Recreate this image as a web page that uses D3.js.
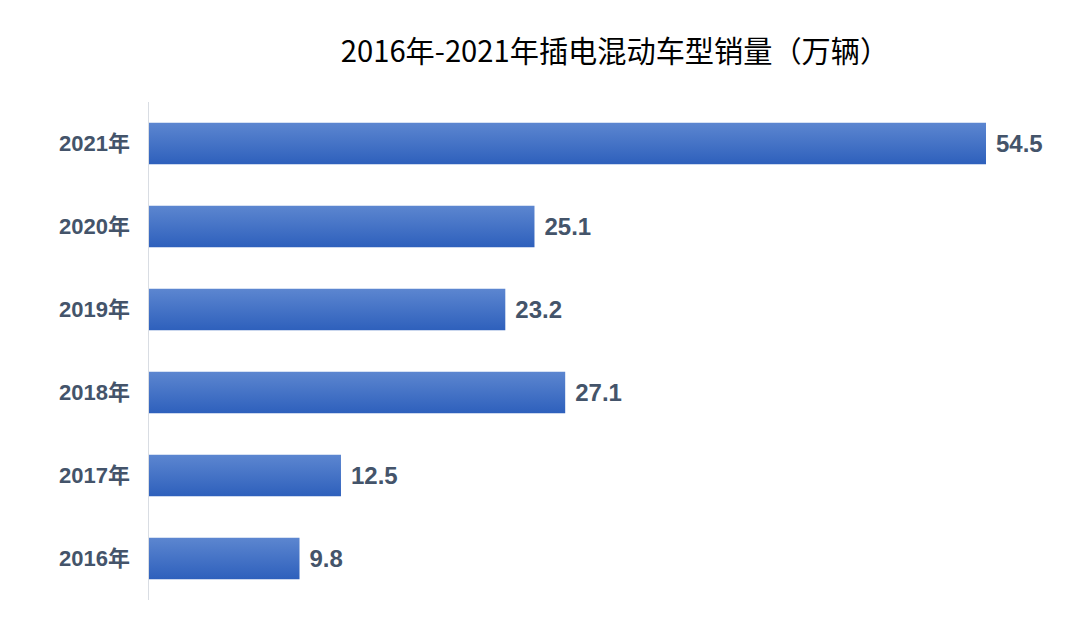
<!DOCTYPE html>
<html><head><meta charset="utf-8">
<script src="https://cdn.jsdelivr.net/npm/d3@7"></script>
<style>body{margin:0;background:#fff;}svg{display:block;}</style>
</head><body>
<svg id="c" width="1073" height="627"></svg>
<script>
const categories = ["2021年","2020年","2019年","2018年","2017年","2016年"];
const values = [54.5, 25.1, 23.2, 27.1, 12.5, 9.8];
const title = "2016年-2021年插电混动车型销量（万辆）";

const svg = d3.select("#c");
const x0 = 149, x1 = 986, yTop = 102, yBot = 600;
const x = d3.scaleLinear().domain([0, 54.5]).range([x0, x1]);
const y = d3.scaleBand().domain(categories).range([yTop, yBot]).paddingInner(0.5).paddingOuter(0.25);

const defs = svg.append("defs");
const g = defs.append("linearGradient").attr("id","bg").attr("x1",0).attr("y1",0).attr("x2",0).attr("y2",1);
g.append("stop").attr("offset","0%").attr("stop-color","#5c86d0");
g.append("stop").attr("offset","100%").attr("stop-color","#2e60bc");

svg.append("text").attr("x",615).attr("y",62).attr("text-anchor","middle")
  .attr("font-family","'Noto Sans CJK SC', 'Noto Sans', sans-serif").attr("font-size",29.2)
  .attr("fill","#000").text(title);

svg.append("line").attr("x1",148.5).attr("x2",148.5).attr("y1",yTop).attr("y2",yBot)
  .attr("stroke","#d9dde3").attr("stroke-width",1);

svg.selectAll("rect.bar").data(values).join("rect").attr("class","bar")
  .attr("x", x(0)).attr("y",(d,i)=>y(categories[i]))
  .attr("width", d=>x(d)-x(0)).attr("height", y.bandwidth())
  .attr("fill","url(#bg)");

svg.selectAll("text.val").data(values).join("text").attr("class","val")
  .attr("x", d=>x(d)+10).attr("y",(d,i)=>y(categories[i])+y.bandwidth()/2)
  .attr("dy","0.36em")
  .attr("font-family","'Liberation Sans', Arial, sans-serif").attr("font-weight","bold")
  .attr("font-size",24).attr("fill","#44546a").text(d=>d);

svg.selectAll("text.cat").data(categories).join("text").attr("class","cat")
  .attr("x",130).attr("y",d=>y(d)+y.bandwidth()/2).attr("dy","0.36em")
  .attr("text-anchor","end")
  .attr("font-family","'Liberation Sans', 'Noto Sans CJK SC', sans-serif").attr("font-weight","bold")
  .attr("font-size",22).attr("fill","#44546a").text(d=>d);
</script>
</body></html>
